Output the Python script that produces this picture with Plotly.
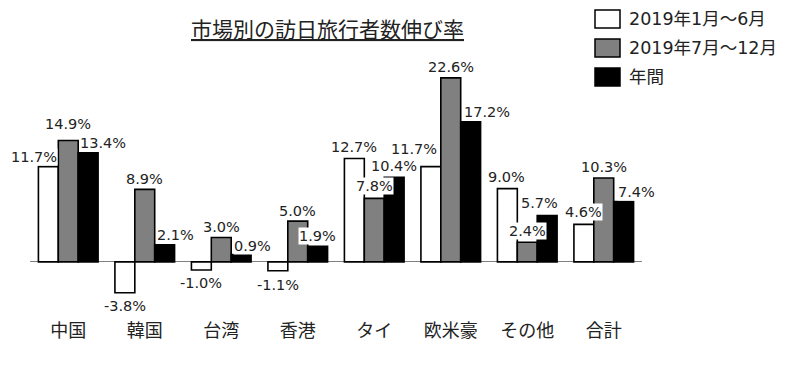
import plotly.graph_objects as go

categories = ["中国", "韓国", "台湾", "香港", "タイ", "欧米豪", "その他", "合計"]
series_names = ["2019年1月～6月", "2019年7月～12月", "年間"]
h1_values = [11.7, -3.8, -1.0, -1.1, 12.7, 11.7, 9.0, 4.6]
h2_values = [14.9, 8.9, 3.0, 5.0, 7.8, 22.6, 2.4, 10.3]
year_values = [13.4, 2.1, 0.9, 1.9, 10.4, 17.2, 5.7, 7.4]
title_text = "市場別の訪日旅行者数伸び率"

colors = ["#ffffff", "#808080", "#000000"]
all_values = [h1_values, h2_values, year_values]

# label nudges (style only): dx px, and gap px from bar end to label centre
label_dx = [
    [-14, 0, 0, 0, 0, -17, -1, 0],
    [0, 0, 0, 0, 0, 0, 0, 0],
    [15, 11, 11, 0, 0, 16, -8, 13],
]
label_gap = [
    [10, 13, 13, 14, 11, 18, 12, 12],
    [17, 10, 10, 10, 12, 11, 11, 11],
    [10, 10, 9, 10, 11, 10, 12, 10],
]

# page body has an 8px margin: draw the figure 8px smaller, shifted
OFF = 8
W, H = 800 - OFF, 365 - OFF
PL, PR, PT, PB = 30, 642, 60, 318   # plot area in reference pixels
L, T = PL - OFF, PT - OFF
R = W - (PR - OFF)
B = H - (PB - OFF)
plot_w = PR - PL
plot_h = PB - PT
ymin, ymax = -6.9, 24.8

def px_x(px):
    return (px - PL) / plot_w

def px_y(py):
    return (PB - py) / plot_h

num_font = "DejaVu Sans, Noto Sans CJK JP, sans-serif"
cjk_font = "Noto Sans CJK JP, sans-serif"

fig = go.Figure()
for name, vals, col in zip(series_names, all_values, colors):
    fig.add_trace(go.Bar(
        x=categories, y=vals, name=name,
        marker=dict(color=col, line=dict(color="#000000", width=1.6)),
        showlegend=False,
    ))

annotations = []
group_offsets = [-20, 0, 20]
for si, vals in enumerate(all_values):
    for ci, v in enumerate(vals):
        gap = label_gap[si][ci]
        annotations.append(dict(
            x=categories[ci], y=v, xref="x", yref="y",
            text=f"{v:.1f}%", showarrow=False,
            xshift=group_offsets[si] + label_dx[si][ci],
            yshift=(gap if v >= 0 else -gap),
            yanchor="middle", xanchor="center",
            font=dict(family=num_font, size=14.5, color="#222222"),
            bgcolor="#ffffff", borderpad=0,
        ))

# title
annotations.append(dict(
    x=px_x(327), y=px_y(28), xref="paper", yref="paper",
    text=f"<u>{title_text}</u>", showarrow=False,
    xanchor="center", yanchor="middle",
    font=dict(family=cjk_font, size=21, color="#222222"),
))

# custom legend
shapes = []
legend_rows_y = [19, 48, 77]
for name, col, cy in zip(series_names, colors, legend_rows_y):
    shapes.append(dict(
        type="rect", xref="paper", yref="paper",
        x0=px_x(595), x1=px_x(620), y0=px_y(cy + 9), y1=px_y(cy - 9),
        fillcolor=col, line=dict(color="#000000", width=1.5),
    ))
    annotations.append(dict(
        x=px_x(627), y=px_y(cy), xref="paper", yref="paper",
        text=name, showarrow=False, xanchor="left", yanchor="middle",
        font=dict(family=num_font, size=17.5, color="#222222"),
    ))

fig.update_layout(
    width=W, height=H,
    margin=dict(l=L, r=R, t=T, b=B),
    paper_bgcolor="#ffffff", plot_bgcolor="#ffffff",
    barmode="group", bargap=0.22, bargroupgap=0,
    annotations=annotations, shapes=shapes,
    showlegend=False,
)
fig.update_xaxes(
    range=[-0.5, len(categories) - 0.5], autorange=False,
    showgrid=False, showline=False, ticks="",
    tickfont=dict(family=cjk_font, size=18, color="#222222"),
)
fig.update_yaxes(
    range=[ymin, ymax], autorange=False, showgrid=False, showticklabels=False,
    zeroline=True, zerolinecolor="#808080", zerolinewidth=1.2,
    showline=False, ticks="",
)

fig.write_html("out.html")
